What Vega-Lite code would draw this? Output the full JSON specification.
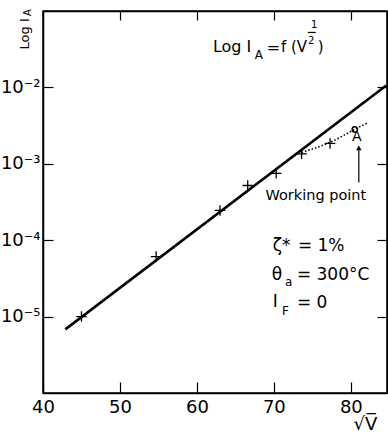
{
  "$schema": "https://vega.github.io/schema/vega-lite/v6.json",
  "width": 344,
  "height": 382,
  "autosize": "none",
  "padding": {"left": 43, "top": 11, "right": 1, "bottom": 41},
  "config": {"font": "DejaVu Sans", "view": {"stroke": "black", "strokeWidth": 1.5}},
  "datasets": {
    "fit": [{"v": 42.9, "i": 6.8e-6}, {"v": 84.6, "i": 1.06e-2}],
    "meas": [
      {"v": 45.0, "i": 1.0e-5}, {"v": 54.7, "i": 6.1e-5}, {"v": 63.0, "i": 2.45e-4},
      {"v": 66.6, "i": 5.2e-4}, {"v": 70.3, "i": 7.5e-4}, {"v": 73.6, "i": 1.35e-3},
      {"v": 77.3, "i": 1.85e-3}
    ],
    "curve": [{"v": 73.6, "i": 1.41e-3}, {"v": 77.3, "i": 1.91e-3}, {"v": 80.5, "i": 2.82e-3}, {"v": 82.2, "i": 3.45e-3}],
    "wp": [{"v": 80.52, "i": 2.82e-3}],
    "arrow": [{"v": 81.04, "i": 1.62e-3, "i2": 5.7e-4}],
    "main": [
      {"v": 62.08, "i": 0.0334, "t": "Log I"},
      {"v": 69.09, "i": 0.0324, "t": "="}
    ],
    "main15": [
      {"v": 70.91, "i": 0.0334, "t": "f (V"},
      {"v": 75.7, "i": 0.0334, "t": ")"}
    ],
    "subs": [
      {"v": 67.53, "i": 0.0262, "t": "A"},
      {"v": 71.43, "i": 2.82e-5, "t": "a"},
      {"v": 71.04, "i": 1.18e-5, "t": "F"}
    ],
    "frac": [
      {"v": 74.42, "i": 0.0411, "t": "2"},
      {"v": 74.81, "i": 0.0646, "t": "1"}
    ],
    "bar": [{"v": 74.42, "v2": 75.45, "i": 0.0524}],
    "params": [
      {"v": 69.87, "i": 8.35e-5, "t": "ζ*"},
      {"v": 73.12, "i": 8.35e-5, "t": "= 1%"},
      {"v": 69.74, "i": 3.48e-5, "t": "θ"},
      {"v": 72.99, "i": 3.48e-5, "t": "= 300°C"},
      {"v": 69.87, "i": 1.55e-5, "t": "I"},
      {"v": 72.99, "i": 1.5e-5, "t": "= 0"}
    ],
    "wptext": [{"v": 75.45, "i": 3.78e-4, "t": "Working point"}],
    "alabel": [{"v": 80.78, "i": 2.25e-3, "t": "A"}],
    "ytitle": [{"v": 37.66, "i": 0.0314, "t": "Log I"}],
    "ytitlesub": [{"v": 38.05, "i": 0.0956, "t": "A"}]
  },
  "resolve": {"axis": {"x": "independent", "y": "independent"}},
  "layer": [
    {
      "data": {"name": "fit"},
      "mark": {"type": "line", "color": "black", "strokeWidth": 2.6},
      "encoding": {
        "x": {"field": "v", "type": "quantitative", "scale": {"domain": [40, 84.7], "nice": false, "zero": false},
          "axis": {"orient": "bottom", "values": [40, 50, 60, 70, 80], "tickSize": -11, "labelPadding": 16, "labelFontSize": 18, "labelColor": "black", "tickColor": "black", "domainColor": "black", "domainWidth": 1.5, "tickWidth": 1.2, "grid": false, "labelFlush": false, "labelOverlap": false,
            "title": "√V̅", "titleFontSize": 18, "titleFontWeight": "normal", "titleColor": "black", "titleX": 322, "titleY": 31, "titleAlign": "center", "titleBaseline": "middle"}},
        "y": {"field": "i", "type": "quantitative", "scale": {"type": "log", "domain": [1e-6, 1e-1], "nice": false},
          "axis": {"orient": "left", "values": [1e-5, 1e-4, 1e-3, 1e-2], "tickSize": -10, "labelPadding": 13, "labelFontSize": 18, "labelColor": "black", "tickColor": "black", "domainColor": "black", "domainWidth": 1.5, "tickWidth": 1.2, "grid": false, "labelFlush": false, "labelOverlap": false, "title": null,
            "labelExpr": "datum.value > 0.005 ? '10⁻²' : datum.value > 0.0005 ? '10⁻³' : datum.value > 0.00005 ? '10⁻⁴' : '10⁻⁵'"}}
      }
    },
    {
      "data": {"name": "meas"},
      "mark": {"type": "point", "shape": "M-1,0H1M0,-1V1", "size": 110, "filled": false, "stroke": "black", "strokeWidth": 1.3, "opacity": 1},
      "encoding": {
        "x": {"field": "v", "type": "quantitative", "axis": {"orient": "top", "values": [50, 60, 70, 80], "labels": false, "tickSize": -9, "tickColor": "black", "tickWidth": 1.2, "domainColor": "black", "domainWidth": 1.5, "grid": false, "title": null}},
        "y": {"field": "i", "type": "quantitative", "axis": {"orient": "right", "values": [1e-5, 1e-4, 1e-3, 1e-2], "labels": false, "tickSize": -10, "tickColor": "black", "tickWidth": 1.2, "domainColor": "black", "domainWidth": 1.5, "grid": false, "title": null}}
      }
    },
    {
      "data": {"name": "curve"},
      "mark": {"type": "line", "color": "black", "strokeWidth": 1.6, "strokeDash": [1.5, 2], "interpolate": "monotone"},
      "encoding": {
        "x": {"field": "v", "type": "quantitative", "axis": null},
        "y": {"field": "i", "type": "quantitative", "axis": null}
      }
    },
    {
      "data": {"name": "wp"},
      "mark": {"type": "point", "shape": "circle", "size": 28, "filled": false, "stroke": "black", "strokeWidth": 1.5, "opacity": 1},
      "encoding": {
        "x": {"field": "v", "type": "quantitative", "axis": null},
        "y": {"field": "i", "type": "quantitative", "axis": null}
      }
    },
    {
      "data": {"name": "arrow"},
      "mark": {"type": "rule", "color": "black", "strokeWidth": 1.2},
      "encoding": {
        "x": {"field": "v", "type": "quantitative", "axis": null},
        "y": {"field": "i", "type": "quantitative", "axis": null},
        "y2": {"field": "i2"}
      }
    },
    {
      "data": {"name": "arrow"},
      "mark": {"type": "point", "shape": "triangle-up", "size": 30, "filled": true, "color": "black", "opacity": 1},
      "encoding": {
        "x": {"field": "v", "type": "quantitative", "axis": null},
        "y": {"field": "i", "type": "quantitative", "axis": null}
      }
    },
    {
      "data": {"name": "bar"},
      "mark": {"type": "rule", "color": "black", "strokeWidth": 1.2},
      "encoding": {
        "x": {"field": "v", "type": "quantitative", "axis": null},
        "x2": {"field": "v2"},
        "y": {"field": "i", "type": "quantitative", "axis": null}
      }
    },
    {
      "data": {"name": "main"},
      "mark": {"type": "text", "fontSize": 16, "align": "left", "baseline": "middle", "color": "black"},
      "encoding": {
        "x": {"field": "v", "type": "quantitative", "axis": null},
        "y": {"field": "i", "type": "quantitative", "axis": null},
        "text": {"field": "t"}
      }
    },
    {
      "data": {"name": "main15"},
      "mark": {"type": "text", "fontSize": 15, "align": "left", "baseline": "middle", "color": "black"},
      "encoding": {
        "x": {"field": "v", "type": "quantitative", "axis": null},
        "y": {"field": "i", "type": "quantitative", "axis": null},
        "text": {"field": "t"}
      }
    },
    {
      "data": {"name": "subs"},
      "mark": {"type": "text", "fontSize": 12, "align": "left", "baseline": "middle", "color": "black"},
      "encoding": {
        "x": {"field": "v", "type": "quantitative", "axis": null},
        "y": {"field": "i", "type": "quantitative", "axis": null},
        "text": {"field": "t"}
      }
    },
    {
      "data": {"name": "frac"},
      "mark": {"type": "text", "fontSize": 10, "align": "left", "baseline": "middle", "color": "black"},
      "encoding": {
        "x": {"field": "v", "type": "quantitative", "axis": null},
        "y": {"field": "i", "type": "quantitative", "axis": null},
        "text": {"field": "t"}
      }
    },
    {
      "data": {"name": "params"},
      "mark": {"type": "text", "fontSize": 17, "align": "left", "baseline": "middle", "color": "black"},
      "encoding": {
        "x": {"field": "v", "type": "quantitative", "axis": null},
        "y": {"field": "i", "type": "quantitative", "axis": null},
        "text": {"field": "t"}
      }
    },
    {
      "data": {"name": "wptext"},
      "mark": {"type": "text", "fontSize": 14.5, "align": "center", "baseline": "middle", "color": "black"},
      "encoding": {
        "x": {"field": "v", "type": "quantitative", "axis": null},
        "y": {"field": "i", "type": "quantitative", "axis": null},
        "text": {"field": "t"}
      }
    },
    {
      "data": {"name": "alabel"},
      "mark": {"type": "text", "fontSize": 14, "align": "center", "baseline": "middle", "color": "black"},
      "encoding": {
        "x": {"field": "v", "type": "quantitative", "axis": null},
        "y": {"field": "i", "type": "quantitative", "axis": null},
        "text": {"field": "t"}
      }
    },
    {
      "data": {"name": "ytitle"},
      "mark": {"type": "text", "fontSize": 13, "align": "left", "baseline": "middle", "angle": 270, "color": "black"},
      "encoding": {
        "x": {"field": "v", "type": "quantitative", "axis": null},
        "y": {"field": "i", "type": "quantitative", "axis": null},
        "text": {"field": "t"}
      }
    },
    {
      "data": {"name": "ytitlesub"},
      "mark": {"type": "text", "fontSize": 10, "align": "center", "baseline": "middle", "angle": 270, "color": "black"},
      "encoding": {
        "x": {"field": "v", "type": "quantitative", "axis": null},
        "y": {"field": "i", "type": "quantitative", "axis": null},
        "text": {"field": "t"}
      }
    }
  ]
}
